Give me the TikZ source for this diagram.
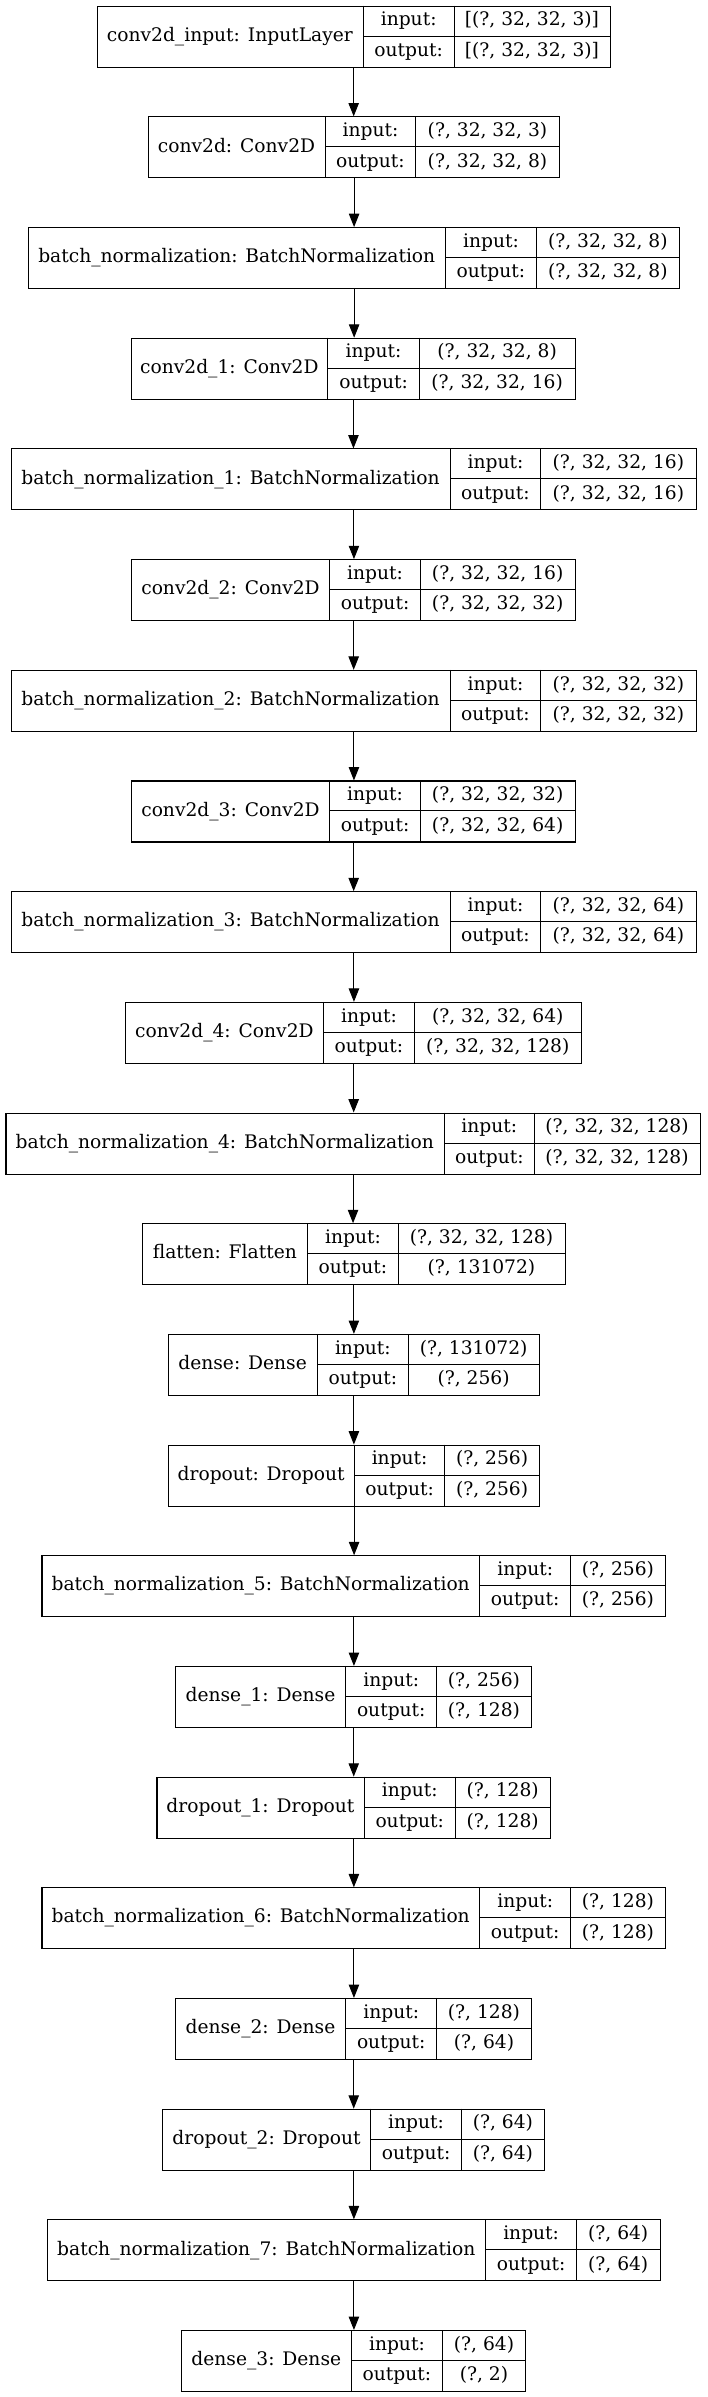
\documentclass[tikz,border=0pt]{standalone}
\usepackage{fontspec}
\setmainfont{DejaVu Serif}
\usetikzlibrary{arrows.meta}
\tikzset{
  cellline/.style={line width=0.75pt, draw=black},
  txt/.style={font=\fontsize{14}{16}\selectfont, inner sep=0pt, anchor=base},
  arr/.style={-{Triangle[length=10pt,width=7.8pt]}, line width=0.75pt},
  layer/.style={draw, line width=0.8pt, inner sep=0pt, anchor=north west}
}
\newcommand\lyr[9]{%
  \pgfmathsetmacro\T{5.7+110.68*#2}%
  \pgfmathsetmacro\B{\T+61}%
  \pgfmathsetmacro\M{\T+30.5}%
  \pgfmathsetmacro\XL{#3*0.9923}%
  \pgfmathsetmacro\XA{#4*0.9923}%
  \pgfmathsetmacro\XB{#5*0.9923}%
  \pgfmathsetmacro\XR{#6*0.9923}%
  \node[layer, minimum width={(\XR-\XL)*0.75pt}, minimum height={61*0.75pt}] (#1) at (\XL,\T) {};
  \draw[cellline] (\XA,\T) -- (\XA,\B) (\XB,\T) -- (\XB,\B) (\XA,\M) -- (\XR,\M);
  \node[txt] at ({(\XL+\XA)/2},{\T+30.5+5.2}) {#7};
  \node[txt] at ({(\XA+\XB)/2},{\T+15.25+5}) {input:};
  \node[txt] at ({(\XA+\XB)/2},{\T+45.75+5}) {output:};
  \node[txt] at ({(\XB+\XR)/2},{\T+15.25+5}) {#8};
  \node[txt] at ({(\XB+\XR)/2},{\T+45.75+5}) {#9};
}
\begin{document}
\begin{tikzpicture}[x=0.75pt,y=-0.75pt]
\fill[white] (0,0) rectangle (707,2397);
\useasboundingbox (0,0) rectangle (707,2397);
\lyr{b0}{0}{97.3}{366}{457.7}{614.5}{conv2d\_input: InputLayer}{[(?, 32, 32, 3)]}{[(?, 32, 32, 3)]}
\lyr{b1}{1}{149}{327.7}{419}{563.6}{conv2d: Conv2D}{(?, 32, 32, 3)}{(?, 32, 32, 8)}
\lyr{b2}{2}{28.2}{449}{540.5}{684.5}{batch\_normalization: BatchNormalization}{(?, 32, 32, 8)}{(?, 32, 32, 8)}
\lyr{b3}{3}{132.3}{330}{423}{579}{conv2d\_1: Conv2D}{(?, 32, 32, 8)}{(?, 32, 32, 16)}
\lyr{b4}{4}{10.9}{453.6}{545}{701.4}{batch\_normalization\_1: BatchNormalization}{(?, 32, 32, 16)}{(?, 32, 32, 16)}
\lyr{b5}{5}{132.3}{332.3}{423.6}{579.5}{conv2d\_2: Conv2D}{(?, 32, 32, 16)}{(?, 32, 32, 32)}
\lyr{b6}{6}{10.9}{453.6}{545}{701.4}{batch\_normalization\_2: BatchNormalization}{(?, 32, 32, 32)}{(?, 32, 32, 32)}
\lyr{b7}{7}{132.3}{332.3}{423.6}{579.5}{conv2d\_3: Conv2D}{(?, 32, 32, 32)}{(?, 32, 32, 64)}
\lyr{b8}{8}{10.9}{453.6}{545}{701.4}{batch\_normalization\_3: BatchNormalization}{(?, 32, 32, 64)}{(?, 32, 32, 64)}
\lyr{b9}{9}{125.9}{326.4}{417.3}{585.9}{conv2d\_4: Conv2D}{(?, 32, 32, 64)}{(?, 32, 32, 128)}
\lyr{b10}{10}{5.5}{447.7}{538.6}{705}{batch\_normalization\_4: BatchNormalization}{(?, 32, 32, 128)}{(?, 32, 32, 128)}
\lyr{b11}{11}{143.2}{310}{401.4}{569}{flatten: Flatten}{(?, 32, 32, 128)}{(?, 131072)}
\lyr{b12}{12}{169}{320}{411.4}{543.2}{dense: Dense}{(?, 131072)}{(?, 256)}
\lyr{b13}{13}{169}{357.3}{448.2}{543.6}{dropout: Dropout}{(?, 256)}{(?, 256)}
\lyr{b14}{14}{41.8}{483.6}{575}{670.5}{batch\_normalization\_5: BatchNormalization}{(?, 256)}{(?, 256)}
\lyr{b15}{15}{176.4}{348.6}{440}{535.5}{dense\_1: Dense}{(?, 256)}{(?, 128)}
\lyr{b16}{16}{157.7}{367.3}{458.6}{554.5}{dropout\_1: Dropout}{(?, 128)}{(?, 128)}
\lyr{b17}{17}{41.8}{483.6}{575}{670.5}{batch\_normalization\_6: BatchNormalization}{(?, 128)}{(?, 128)}
\lyr{b18}{18}{176.4}{348.6}{440}{535.5}{dense\_2: Dense}{(?, 128)}{(?, 64)}
\lyr{b19}{19}{163.6}{373.6}{465}{548.6}{dropout\_2: Dropout}{(?, 64)}{(?, 64)}
\lyr{b20}{20}{47.3}{489.5}{581}{665}{batch\_normalization\_7: BatchNormalization}{(?, 64)}{(?, 64)}
\lyr{b21}{21}{182.7}{354}{446}{529.5}{dense\_3: Dense}{(?, 64)}{(?, 2)}
\foreach \a/\b in {b0/b1,b1/b2,b2/b3,b3/b4,b4/b5,b5/b6,b6/b7,b7/b8,b8/b9,b9/b10,b10/b11,b11/b12,b12/b13,b13/b14,b14/b15,b15/b16,b16/b17,b17/b18,b18/b19,b19/b20,b20/b21}
  \draw[arr] (\a.south) -- (\a.south |- \b.north);
\end{tikzpicture}
\end{document}
